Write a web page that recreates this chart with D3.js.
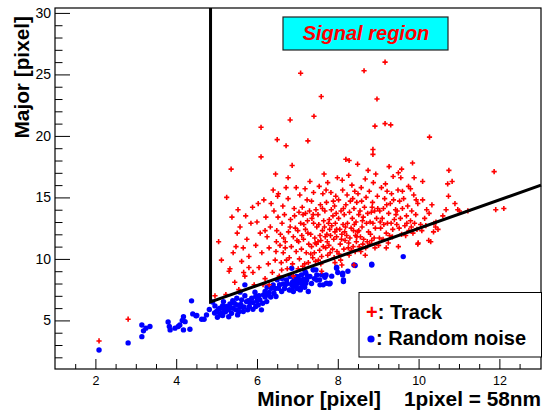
<!DOCTYPE html>
<html>
<head>
<meta charset="utf-8">
<script src="https://cdn.jsdelivr.net/npm/d3@7"></script>
<style>
  html, body { margin: 0; padding: 0; background: #fff; }
  svg { display: block; }
  text { font-family: "Liberation Sans", Arial, Helvetica, sans-serif; }
</style>
</head>
<body>
<svg id="chart" width="543" height="414"></svg>
<script>
// ---------------- DATA ----------------
const xDomain = [1, 13.03];
const yDomain = [1.05, 30.4];
const xMajorTicks = [2, 4, 6, 8, 10, 12];
const xMinorTicks = [1.5, 2.5, 3, 3.5, 4.5, 5, 5.5, 6.5, 7, 7.5, 8.5, 9, 9.5, 10.5, 11, 11.5, 12.5];
const yMajorTicks = [5, 10, 15, 20, 25, 30];
const yMinorTicks = [2, 3, 4, 6, 7, 8, 9, 11, 12, 13, 14, 16, 17, 18, 19, 21, 22, 23, 24, 26, 27, 28, 29];
const xTitle = "Minor [pixel]    1pixel = 58nm";
const yTitle = "Major [pixel]";
const regionLabel = "Signal region";
const legendLabels = [": Track", ": Random noise"];
// signal-region boundary (vertical cut, then oblique cut)
const cutLine = [[4.85, 30.4], [4.85, 6.5], [13.03, 16.0]];

// Track candidates (red crosses)
const trackPoints = [
  [2.09,3.33],[2.81,5.1],[4.96,7.0],[5.23,7.1],
  [7.08,25.1],[8.65,25.3],[9.17,26.0],[7.59,23.2],[8.97,23.0],[6.10,20.7],[6.82,21.3],[7.41,21.6],
  [8.92,20.8],[9.17,21.0],[9.31,20.9],[10.27,19.9],[6.50,19.7],[6.72,19.2],[7.26,19.6],[8.87,18.9],
  [8.87,18.5],[6.10,18.3],[5.36,17.3],[6.87,17.6],[8.20,18.1],[8.28,18.0],[8.49,17.7],[9.85,17.8],
  [10.75,17.2],[11.87,17.1],[9.27,17.5],[9.58,17.3],[9.50,17.0],[9.37,16.7],[9.56,16.6],[9.89,16.6],
  [10.10,16.3],[10.72,16.1],[10.83,16.3],[10.74,15.1],[6.46,16.9],[6.77,16.6],[7.66,16.9],[7.99,16.6],
  [7.75,16.2],[5.25,15.0],[6.40,15.6],[6.53,15.3],[6.51,15.1],[6.72,15.8],[6.97,15.8],[6.77,14.9],
  [6.17,14.8],[6.03,14.5],[5.89,14.2],[9.75,15.9],[9.80,15.7],[9.94,14.8],[9.98,14.5],[10.10,14.8],
  [10.20,14.0],[10.26,13.7],[10.38,12.9],[10.42,12.6],[10.25,11.5],[10.30,11.4],[9.98,11.2],[10.97,14.0],
  [11.01,13.9],[11.22,13.9],[11.91,14.0],[12.11,14.1],[10.37,12.2],[10.43,13.0],[10.48,12.4],
  [5.33,9.2],[5.31,9.0],[5.41,10.5],[5.51,12.1],[5.12,9.9],[5.45,8.1],[5.05,11.4],[5.38,13.4],[5.48,11.0],
  [5.55,7.5],[5.62,9.8],[5.70,8.6],[5.80,10.2],[5.67,8.9],[5.80,9.3],[5.58,12.6],[5.75,11.6],[5.93,7.9],
  [5.85,12.9],[5.66,10.9],[5.97,11.1],[5.53,14.0],[5.72,13.5],[5.90,8.9],
  [6.05,9.3],[6.12,10.5],[6.20,8.4],[6.25,11.8],[6.33,12.6],[6.45,9.9],[6.30,10.9],[6.08,12.1],[6.22,13.4],
  [6.38,8.9],[6.48,11.4],[6.15,7.9],[6.28,9.6],[6.42,13.9],[6.35,14.5],[6.00,13.0],[6.20,12.3],[6.47,10.6],
  [6.55,8.6],[6.60,9.7],[6.65,10.5],[6.70,11.4],[6.58,12.0],[6.62,12.9],[6.68,13.6],[6.75,9.2],[6.80,10.1],
  [6.85,11.0],[6.90,11.8],[6.95,12.5],[6.83,13.2],[6.92,14.1],[6.57,11.1],[6.64,14.3],[6.78,12.2],[6.88,9.6],
  [6.97,10.6],[6.52,13.4],[6.70,10.9],[6.93,13.5],[6.61,9.1],[6.99,11.5],
  [7.02,9.2],[7.05,10.0],[7.10,10.8],[7.15,11.6],[7.20,12.4],[7.25,13.1],[7.30,13.9],[7.35,14.7],[7.40,15.4],
  [7.45,9.8],[7.08,12.9],[7.12,14.2],[7.18,9.6],[7.22,10.5],[7.28,11.2],[7.33,12.0],[7.38,10.1],[7.43,11.7],
  [7.48,12.6],[7.03,11.4],[7.14,13.6],[7.24,14.8],[7.36,13.3],[7.46,14.0],[7.19,15.7],[7.31,16.3],[7.42,10.5],
  [7.06,15.2],[7.27,9.7],[7.40,12.9],[7.11,11.9],[7.35,11.0],[7.47,11.2],[7.20,13.7],[7.04,13.8],
  [7.52,9.9],[7.55,10.7],[7.58,11.5],[7.62,12.3],[7.65,13.1],[7.68,13.9],[7.72,14.6],[7.75,10.3],[7.78,11.1],
  [7.82,11.9],[7.85,12.7],[7.88,13.5],[7.92,14.3],[7.95,15.1],[7.98,10.6],[7.53,12.8],[7.57,14.4],[7.63,15.3],
  [7.70,10.9],[7.80,12.4],[7.90,11.6],[7.56,11.9],[7.67,12.6],[7.74,11.4],[7.84,14.0],[7.94,12.9],[7.60,10.2],
  [7.71,15.6],[7.87,10.8],[7.97,11.8],[7.51,13.6],[7.79,13.2],[7.91,10.1],[7.64,11.0],[7.83,15.4],[7.96,13.7],
  [7.54,15.9],[7.73,12.0],
  [8.03,10.4],[8.06,11.2],[8.10,12.0],[8.13,12.8],[8.16,13.6],[8.20,14.4],[8.23,15.2],[8.26,10.9],[8.30,11.7],
  [8.33,12.5],[8.36,13.3],[8.40,14.1],[8.43,10.6],[8.46,11.4],[8.49,12.2],[8.08,13.9],[8.12,15.6],[8.18,11.5],
  [8.24,12.9],[8.31,14.7],[8.38,11.0],[8.42,15.5],[8.05,12.4],[8.15,10.8],[8.35,16.0],[8.45,13.0],[8.02,14.8],
  [8.22,11.9],[8.29,13.8],[8.47,14.6],[8.11,16.4],[8.39,12.3],[8.17,12.2],[8.27,16.8],[8.44,11.9],[8.09,11.6],
  [8.34,10.7],[8.50,15.3],
  [8.53,11.0],[8.56,11.8],[8.60,12.6],[8.63,13.4],[8.66,14.2],[8.70,15.0],[8.73,11.4],[8.76,12.2],[8.80,13.0],
  [8.83,13.8],[8.86,14.6],[8.90,11.7],[8.93,12.5],[8.96,13.3],[8.99,14.1],[8.58,15.8],[8.68,16.5],[8.78,15.5],
  [8.88,16.2],[8.98,15.1],[8.55,13.9],[8.71,12.9],[8.84,11.5],[8.62,11.2],[8.94,16.9],[8.75,17.2],[8.81,12.0],
  [8.59,14.7],[8.69,10.9],[8.91,13.9],[8.52,12.3],
  [9.03,11.7],[9.06,12.5],[9.10,13.3],[9.13,14.1],[9.16,14.9],[9.20,12.1],[9.23,12.9],[9.26,13.7],[9.30,14.5],
  [9.33,15.3],[9.36,12.4],[9.40,13.2],[9.43,14.0],[9.46,12.8],[9.49,15.6],[9.08,15.8],[9.18,16.1],[9.28,11.9],
  [9.38,14.8],[9.12,11.6],[9.22,15.5],[9.44,13.6],[9.04,13.9],[9.35,11.8],
  [9.52,12.5],[9.55,13.3],[9.60,14.1],[9.63,14.9],[9.66,12.7],[9.70,13.5],[9.73,14.3],[9.76,12.3],[9.80,13.1],
  [9.83,13.9],[9.86,12.1],[9.90,12.9],[9.93,13.6],[9.96,12.4],[9.60,15.5],[9.68,11.9],[9.88,15.2],[9.53,14.7],
  [10.05,12.8],[10.15,13.3],[10.08,12.3],[10.33,14.4],[10.18,12.7],
  [10.60,13.5],[10.68,14.0],[10.90,14.5],
  [7.60,9.0],[8.10,9.5],[8.40,9.5],[9.20,10.9],[9.50,11.0],[6.30,7.9],[6.90,8.6],[9.99,11.3],
  [7.33,10.4],[7.58,9.6],[7.81,10.5],[8.07,9.9],[8.28,10.3],[8.57,10.6],[8.79,11.2],[9.01,11.1],[7.44,11.3],
  [7.69,11.8],[7.93,12.2],[8.19,12.6],[8.41,12.8],[8.64,11.6],[8.87,12.9],[9.14,12.8],[7.26,12.1],[7.51,11.4],
  [7.77,12.9],[8.02,13.3],[8.27,11.3],[8.52,13.6],[8.74,13.7],[9.05,13.0],[7.39,13.6],[7.62,14.1],[7.89,14.7],
  [8.14,14.1],[8.37,14.9],[8.61,13.1],[8.85,14.2],[9.21,14.4],[7.16,12.8],[7.97,12.4],[8.47,11.8],[8.92,10.9],
  [9.32,12.9],[9.58,12.0],[9.71,12.9],[9.47,13.9],[6.66,11.7],[6.82,12.6],[7.01,12.3],[6.49,12.3],[6.73,9.9],
  [7.13,9.4],[7.93,9.7],[8.68,10.3],[9.25,11.3],[9.82,12.6]
];

// Random noise (blue dots)
const noisePoints = [
  [2.09,2.60],[2.81,3.17],[3.15,4.63],[3.19,4.15],[3.25,4.37],[3.15,3.68],[3.35,4.50],
  [3.80,4.88],[3.85,4.23],[3.83,4.50],[3.97,4.37],[4.05,4.50],[4.09,4.63],[4.22,4.90],[4.18,4.23],[4.34,4.28],
  [4.38,6.59],[4.41,5.53],[4.49,5.37],[4.63,5.10],[4.75,5.45],[4.69,5.10],[4.82,5.89],[4.15,5.0],[4.18,5.3],[4.51,5.4],
  [4.96,6.18],[5.00,5.72],[5.08,5.99],[5.12,5.58],[5.18,5.86],[5.25,6.13],[5.33,6.34],[5.41,5.99],[5.37,5.58],
  [5.48,5.86],[5.51,6.26],[5.58,6.07],[5.62,6.67],[5.70,7.00],[5.74,6.53],[5.81,6.13],[5.87,6.80],[5.91,6.45],
  [5.97,6.94],[6.03,6.26],[6.07,6.67],[6.16,7.08],[6.20,7.35],[6.24,6.53],[6.30,7.27],[6.36,7.62],[6.42,7.21],
  [6.47,6.94],[6.53,7.62],[6.61,7.35],[6.65,7.97],[6.73,8.30],[6.80,7.48],[6.86,7.89],[6.92,8.30],[6.98,8.57],
  [7.02,8.02],[7.08,7.62],[7.15,8.35],[7.21,8.02],[7.27,7.35],[7.31,8.57],[7.39,9.11],[7.48,8.70],[7.60,8.70],
  [7.64,7.89],[7.72,8.02],[7.81,8.02],[7.97,9.24],[8.12,8.70],[8.14,8.16],[8.40,9.51],[8.84,9.57],[5.70,7.89],
  [5.83,6.45],[5.02,5.26],[5.08,5.45],[5.17,6.53],[5.29,5.86],[5.50,6.80],[5.52,5.45],[5.66,5.72],[5.77,5.86],
  [5.97,6.13],[6.11,5.86],[6.28,7.08],[6.40,7.89],[6.82,8.57],[6.90,7.35],[7.10,8.70],[7.19,8.97],[7.46,9.11],
  [9.62,10.19],[8.84,9.51],[8.43,9.46],[8.12,8.84],[8.14,8.29],[7.97,9.32],[7.71,8.70],[7.79,7.97],[7.56,7.89],
  [7.40,9.11],[7.48,8.29],[7.23,8.29],[7.11,8.02],[7.02,8.56],[6.94,8.29],[6.90,7.75],[7.07,7.48],[6.82,7.48],
  [6.86,9.24],[7.21,8.84],
  [5.05,5.9],[5.15,6.2],[5.22,5.7],[5.35,6.0],[5.44,6.4],[5.55,5.7],[5.60,6.3],[5.68,6.1],[5.78,6.6],[5.90,5.9],
  [6.00,6.6],[6.14,6.4],[6.20,6.9],[6.34,6.9],[6.45,7.6],[6.56,7.9],[6.68,7.6],[6.75,8.0],[6.88,8.1],[6.95,7.8],
  [7.05,8.3],[7.13,7.9],[7.25,8.6],[7.35,8.0],[7.42,8.4],[7.55,8.3],[7.68,8.5],[7.85,8.6],[8.00,8.9],[8.25,9.0],
  [6.62,8.4],[6.70,7.9],[6.98,8.0],[7.00,7.6],[7.18,7.7],[5.95,7.3],[6.05,7.0],[5.40,6.6],[5.15,5.4],[5.30,5.3],
  [4.95,5.6],[4.90,6.5],[5.58,7.3],[6.25,7.7],[6.50,8.3]
];

// ---------------- DRAW ----------------
const svg = d3.select("#chart");
svg.append("rect").attr("width", 543).attr("height", 414).attr("fill", "#fff");

const x = d3.scaleLinear().domain(xDomain).range([55, 541]);
const y = d3.scaleLinear().domain(yDomain).range([369, 8]);

// Y axis (ticks pointing inward)
const yMajor = d3.axisLeft(y).tickValues(yMajorTicks).tickSize(-15).tickPadding(4).tickFormat(d3.format("d"));
const yMinor = d3.axisLeft(y).tickValues(yMinorTicks).tickSize(-7.5).tickFormat("");
const gyMin = svg.append("g").attr("transform", "translate(55,0)").call(yMinor);
const gy = svg.append("g").attr("transform", "translate(55,0)").call(yMajor);
[gy, gyMin].forEach(g => {
  g.select(".domain").remove();
  g.selectAll("line").attr("stroke", "#000").attr("stroke-width", 1);
});
gy.selectAll("text").attr("font-size", 14).attr("fill", "#000")
  .attr("font-family", "'Liberation Sans', Arial, sans-serif");

// X axis
const xMajor = d3.axisBottom(x).tickValues(xMajorTicks).tickSize(-10).tickPadding(7).tickFormat(d3.format("d"));
const xMinor = d3.axisBottom(x).tickValues(xMinorTicks).tickSize(-5).tickFormat("");
const gxMin = svg.append("g").attr("transform", "translate(0,369)").call(xMinor);
const gx = svg.append("g").attr("transform", "translate(0,369)").call(xMajor);
[gx, gxMin].forEach(g => {
  g.select(".domain").remove();
  g.selectAll("line").attr("stroke", "#000").attr("stroke-width", 1);
});
gx.selectAll("text").attr("font-size", 12.5).attr("fill", "#000")
  .attr("font-family", "'Liberation Sans', Arial, sans-serif");

// Frame
svg.append("rect")
  .attr("x", x(xDomain[0])).attr("y", y(yDomain[1]))
  .attr("width", x(xDomain[1]) - x(xDomain[0]))
  .attr("height", y(yDomain[0]) - y(yDomain[1]))
  .attr("fill", "none").attr("stroke", "#000").attr("stroke-width", 1.2);

// Points: noise first, then tracks
svg.append("g").selectAll("circle").data(noisePoints).join("circle")
  .attr("cx", d => x(d[0])).attr("cy", d => y(d[1]))
  .attr("r", 2.7).attr("fill", "#0000ff");

svg.append("g").selectAll("path").data(trackPoints).join("path")
  .attr("d", d => `M${x(d[0]) - 2.6},${y(d[1])}h5.2M${x(d[0])},${y(d[1]) - 2.6}v5.2`)
  .attr("stroke", "#ff0000").attr("stroke-width", 1.6).attr("fill", "none");

// Cut lines
svg.append("path")
  .attr("d", d3.line().x(d => x(d[0])).y(d => y(d[1]))(cutLine))
  .attr("fill", "none").attr("stroke", "#000").attr("stroke-width", 3)
  .attr("stroke-linejoin", "miter");

// Signal region label
svg.append("rect").attr("x", 283).attr("y", 17).attr("width", 165).attr("height", 33)
  .attr("fill", "#00ffff").attr("stroke", "#222").attr("stroke-width", 1.2);
svg.append("text").attr("x", 366).attr("y", 40).attr("text-anchor", "middle")
  .attr("font-size", 20).attr("font-weight", "bold").attr("font-style", "italic")
  .attr("fill", "#ff0000").text(regionLabel);

// Legend
svg.append("rect").attr("x", 359).attr("y", 292.5).attr("width", 182.5).attr("height", 64.5)
  .attr("fill", "#fff").attr("stroke", "#000").attr("stroke-width", 1);
const lt = svg.append("text").attr("x", 366).attr("y", 319).attr("font-size", 20).attr("font-weight", "bold");
lt.append("tspan").attr("fill", "#ff0000").text("+");
lt.append("tspan").attr("fill", "#000").text(legendLabels[0]);
svg.append("circle").attr("cx", 371).attr("cy", 339).attr("r", 3.6).attr("fill", "#0000ff");
svg.append("text").attr("x", 376).attr("y", 345).attr("font-size", 20).attr("font-weight", "bold")
  .attr("fill", "#000").text(legendLabels[1]);

// Axis titles
svg.append("text").attr("x", 541).attr("y", 406).attr("text-anchor", "end")
  .attr("font-size", 20.8).attr("font-weight", "bold").attr("fill", "#000")
  .attr("xml:space", "preserve").style("white-space", "pre").text(xTitle);
svg.append("text").attr("transform", "translate(28.5,16) rotate(-90)").attr("text-anchor", "end")
  .attr("font-size", 20.8).attr("font-weight", "bold").attr("fill", "#000").text(yTitle);
</script>
</body>
</html>
